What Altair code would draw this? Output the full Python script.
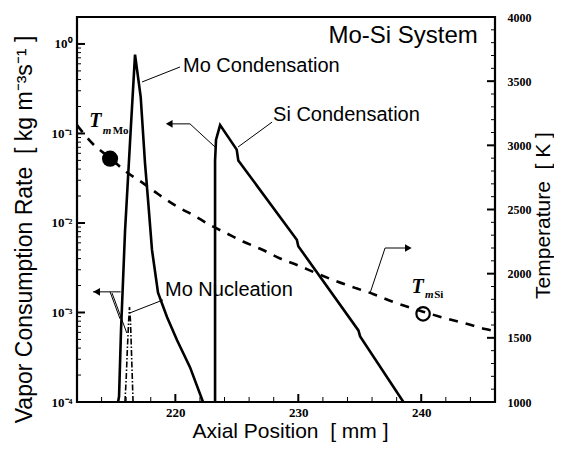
import altair as alt
import pandas as pd

W, H = 418, 385
NB = "\u00a0"

# ---------------- data ----------------
# Mo condensation (left axis, kg m-3 s-1)
mo_cond_x = [215.34, 215.42, 215.58, 215.91, 216.37, 216.72, 217.18, 217.53, 217.78,
             218.10, 218.59, 219.32, 220.14, 221.19, 222.25]
mo_cond_y = [1e-4, 1.15e-4, 6.3e-4, 8.3e-3, 0.11, 0.76, 0.257, 0.047, 0.018,
             5.0e-3, 1.66e-3, 8.9e-4, 4.9e-4, 2.45e-4, 1e-4]

# Si condensation
si_cond_x = [223.23, 223.23, 223.31, 223.64, 224.99, 225.12, 229.88, 230.0,
             234.89, 235.03, 238.55]
si_cond_y = [1e-4, 0.050, 0.085, 0.124, 0.066, 0.050, 6.5e-3, 5.5e-3,
             6.3e-4, 5.4e-4, 1e-4]

# Mo nucleation
mo_nuc_x = [215.9, 216.0, 216.1, 216.2, 216.27, 216.35, 216.45, 216.56]
mo_nuc_y = [1e-4, 1.8e-4, 4e-4, 8e-4, 1.15e-3, 8e-4, 3e-4, 1e-4]

# Temperature (right axis, K)
temp_x = [212.0, 213.22, 214.69, 215.91, 217.37, 218.59, 220.14, 221.44, 222.82,
          224.2, 225.5, 227.13, 228.52, 229.9, 231.53, 233.16, 234.78, 236.08,
          237.63, 240.15, 242.02, 243.57, 245.2, 246.0]
temp_y = [3158, 3018, 2901, 2800, 2706, 2621, 2523, 2457, 2379, 2313, 2251, 2184,
          2118, 2068, 2001, 1939, 1884, 1842, 1783, 1704, 1651, 1612, 1569, 1553]

# Melting points
tm_mo = (214.69, 2896)
tm_si = (240.15, 1687)

# tick values
x_major = [220, 230, 240]
x_minor = [214, 216, 218, 222, 224, 226, 228, 232, 234, 236, 238, 242, 244]
y_major = [1e-4, 1e-3, 1e-2, 1e-1, 1.0]
y_minor = [k * 10.0 ** d for d in range(-4, 0) for k in range(2, 10)]
t_major = [1500, 2000, 2500, 3000, 3500]
t_minor = [t for t in range(1100, 4000, 100) if t % 500 != 0]
t_labels = [1000, 1500, 2000, 2500, 3000, 3500, 4000]

# annotation segments (left axis units)
seg_left = pd.DataFrame({
    "x1": [213.3, 214.69, 214.85, 219.5, 221.19, 217.29, 225.1, 216.31],
    "y1": [1.7e-3, 1.7e-3, 1.65e-3, 0.128, 0.128, 0.376, 0.0706, 9.9e-4],
    "x2": [215.55, 215.5, 216.05, 221.19, 223.23, 220.38, 227.87, 219.0],
    "y2": [1.7e-3, 8.5e-4, 5.9e-4, 0.128, 0.0706, 0.553, 0.134, 1.38e-3],
})
heads_left = pd.DataFrame({"x": [213.6, 219.5], "y": [1.7e-3, 0.128]})
# annotation segments (right axis units)
seg_right = pd.DataFrame({
    "x1": [235.84, 237.06],
    "y1": [1849, 2200],
    "x2": [237.06, 238.95],
    "y2": [2200, 2200],
})
heads_right = pd.DataFrame({"x": [238.95], "y": [2200]})

labels = pd.DataFrame({
    "x": [220.62, 227.95, 219.16],
    "y": [0.567, 0.161, 1.78e-3],
    "t": ["Mo Condensation", "Si Condensation", "Mo Nucleation"],
})
title_lbl = pd.DataFrame({"x": [244.6], "y": [1.23], "t": ["Mo-Si System"]})
tm_T = pd.DataFrame({"x": [213.0, 239.2], "y": [0.138, 1.93e-3], "t": ["T", "T"]})
tm_m = pd.DataFrame({"x": [214.1, 240.3], "y": [0.107, 1.58e-3], "t": ["m", "m"]})
tm_el = pd.DataFrame({"x": [214.9, 241.05], "y": [0.107, 1.58e-3], "t": ["Mo", "Si"]})

# ---------------- encodings ----------------
SERIF = "Liberation Serif"
SANS = "Liberation Sans"

xscale = alt.Scale(domain=[212, 246], nice=False, zero=False)
xaxis = alt.Axis(values=x_major, ticks=False, tickSize=0, domain=False, grid=False,
                 labelFont=SERIF, labelFontWeight="bold", labelFontSize=13,
                 labelColor="black", labelPadding=4,
                 title=f"Axial Position{NB}{NB}[ mm ]", titleFont=SANS, titleFontSize=21,
                 titleFontWeight="normal", titleColor="black",
                 titleX=213, titleY=29, titleBaseline="middle")

yscale = alt.Scale(type="log", domain=[1e-4, 2], nice=False)
label_expr = ("datum.value > 0.5 ? '10⁰' : datum.value > 0.05 ? '10⁻¹' : "
              "datum.value > 0.005 ? '10⁻²' : datum.value > 0.0005 ? '10⁻³' : '10⁻⁴'")
yaxis = alt.Axis(values=y_major, labelExpr=label_expr, ticks=False, tickSize=0,
                 domain=False, grid=False, labelFont=SERIF, labelFontWeight="bold",
                 labelFontSize=13, labelColor="black", labelPadding=5,
                 title=f"Vapor Consumption Rate{NB}{NB}[ kg m⁻³s⁻¹ ]", titleFont=SANS,
                 titleFontSize=23, titleFontWeight="normal", titleColor="black",
                 titleAngle=270, titleX=-53, titleY=212, titleBaseline="middle")

tscale = alt.Scale(domain=[1000, 4000], nice=False, zero=False)
taxis = alt.Axis(orient="right", values=t_labels, format="d", ticks=False, tickSize=0,
                 domain=False, grid=False, labelFont=SERIF, labelFontWeight="bold",
                 labelFontSize=12, labelColor="black", labelPadding=12,
                 title=f"Temperature{NB}{NB}[ K ]", titleFont=SANS, titleFontSize=21,
                 titleFontWeight="normal", titleColor="black", titleAngle=270,
                 titleX=48, titleY=198, titleBaseline="middle")


def X(f):
    return alt.X(f"{f}:Q", scale=xscale, axis=xaxis)


def X2(f):
    return alt.X2(f"{f}")


def YL(f):
    return alt.Y(f"{f}:Q", scale=yscale, axis=yaxis)


def YT(f):
    return alt.Y(f"{f}:Q", scale=tscale, axis=taxis)


def df(**kw):
    return pd.DataFrame(kw)


# ---------------- left-axis layers ----------------
mo_cond = alt.Chart(df(x=mo_cond_x, y=mo_cond_y)).mark_line(
    color="black", strokeWidth=2.6, clip=True).encode(x=X("x"), y=YL("y"), order="x:Q")
si_cond = alt.Chart(df(x=si_cond_x, y=si_cond_y, o=list(range(len(si_cond_x))))).mark_line(
    color="black", strokeWidth=2.6, clip=True).encode(x=X("x"), y=YL("y"), order="o:Q")
mo_nuc = alt.Chart(df(x=mo_nuc_x, y=mo_nuc_y)).mark_line(
    color="black", strokeWidth=1.6, strokeDash=[6, 2, 1.5, 2], clip=True).encode(
    x=X("x"), y=YL("y"), order="x:Q")

segL = alt.Chart(seg_left).mark_rule(color="black", strokeWidth=1).encode(
    x=X("x1"), x2=X2("x2"), y=YL("y1"), y2=alt.Y2("y2"))
headL = alt.Chart(heads_left).mark_point(shape="triangle-left", filled=True, color="black",
                                         size=60, opacity=1).encode(x=X("x"), y=YL("y"))

txt = alt.Chart(labels).mark_text(align="left", baseline="middle", font=SANS, fontSize=20,
                                  color="black").encode(x=X("x"), y=YL("y"), text="t:N")
ttl = alt.Chart(title_lbl).mark_text(align="right", baseline="middle", font=SANS,
                                     fontSize=24, color="black").encode(
    x=X("x"), y=YL("y"), text="t:N")
tT = alt.Chart(tm_T).mark_text(align="left", baseline="middle", font=SERIF, fontSize=20,
                               fontStyle="italic", fontWeight="bold", color="black").encode(
    x=X("x"), y=YL("y"), text="t:N")
tM = alt.Chart(tm_m).mark_text(align="left", baseline="middle", font=SERIF, fontSize=11,
                               fontStyle="italic", fontWeight="bold", color="black").encode(
    x=X("x"), y=YL("y"), text="t:N")
tE = alt.Chart(tm_el).mark_text(align="left", baseline="middle", font=SERIF, fontSize=11,
                                fontWeight="bold", color="black").encode(
    x=X("x"), y=YL("y"), text="t:N")

yt_major = alt.Chart(df(v=y_major)).mark_rule(color="black", strokeWidth=2).encode(
    y=YL("v"), x=alt.value(0), x2=alt.value(8))
yt_minor = alt.Chart(df(v=y_minor)).mark_rule(color="black", strokeWidth=1).encode(
    y=YL("v"), x=alt.value(0), x2=alt.value(4))
xt_major = alt.Chart(df(v=x_major)).mark_rule(color="black", strokeWidth=2).encode(
    x=X("v"), y=alt.value(H - 8), y2=alt.value(H))
xt_minor = alt.Chart(df(v=x_minor)).mark_rule(color="black", strokeWidth=1).encode(
    x=X("v"), y=alt.value(H - 5), y2=alt.value(H))

left = alt.layer(mo_cond, si_cond, mo_nuc, segL, headL, txt, ttl, tT, tM, tE,
                 yt_major, yt_minor, xt_major, xt_minor)

# ---------------- right-axis layers ----------------
temp = alt.Chart(df(x=temp_x, y=temp_y)).mark_line(
    color="black", strokeWidth=2.6, strokeDash=[9, 8], interpolate="monotone",
    clip=True).encode(x=X("x"), y=YT("y"), order="x:Q")
c_mo = alt.Chart(df(x=[tm_mo[0]], y=[tm_mo[1]])).mark_point(
    shape="circle", filled=True, color="black", size=260, opacity=1).encode(
    x=X("x"), y=YT("y"))
c_si = alt.Chart(df(x=[tm_si[0]], y=[tm_si[1]])).mark_point(
    shape="circle", filled=False, color="black", size=180, strokeWidth=2.2,
    opacity=1).encode(x=X("x"), y=YT("y"))
segR = alt.Chart(seg_right).mark_rule(color="black", strokeWidth=1).encode(
    x=X("x1"), x2=X2("x2"), y=YT("y1"), y2=alt.Y2("y2"))
headR = alt.Chart(heads_right).mark_point(shape="triangle-right", filled=True,
                                          color="black", size=60, opacity=1).encode(
    x=X("x"), y=YT("y"))
tt_major = alt.Chart(df(v=t_major)).mark_rule(color="black", strokeWidth=2).encode(
    y=YT("v"), x=alt.value(W - 8), x2=alt.value(W))
tt_minor = alt.Chart(df(v=t_minor)).mark_rule(color="black", strokeWidth=1).encode(
    y=YT("v"), x=alt.value(W - 4), x2=alt.value(W))

right = alt.layer(temp, c_mo, c_si, segR, headR, tt_major, tt_minor)

chart = alt.layer(left, right).resolve_scale(y="independent").properties(
    width=W, height=H,
    autosize=alt.AutoSizeParams(type="none"),
    padding={"left": 69, "top": 9, "right": 59, "bottom": 44},
    background="white",
).configure_view(stroke="black", strokeWidth=2.2)

chart.save("out.html", embed_options={"renderer": "svg", "actions": False})
